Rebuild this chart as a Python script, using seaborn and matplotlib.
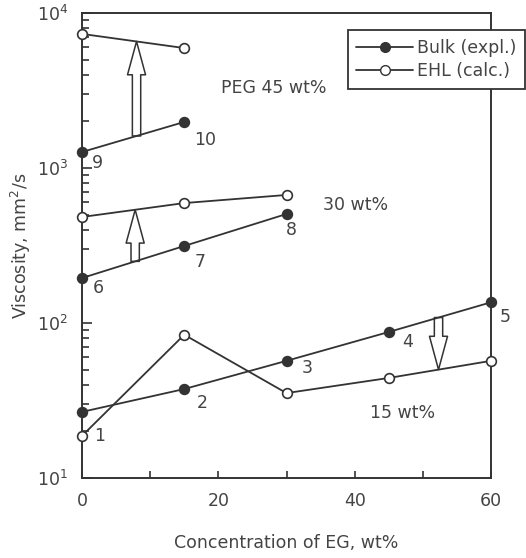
import numpy as np
import pandas as pd
import matplotlib
matplotlib.use("Agg")
import matplotlib.pyplot as plt
import seaborn as sns
from matplotlib.lines import Line2D
from matplotlib.ticker import FixedLocator, LogLocator, NullFormatter

# ---------------- data ----------------
x15 = [0, 15, 30, 45, 60]
bulk15 = [26.7, 37.5, 57.0, 87.5, 136]
ehl15 = [18.7, 84.0, 35.3, 44.2, 57.0]

x30 = [0, 15, 30]
bulk30 = [195, 314, 505]
ehl30 = [483, 594, 670]

x45 = [0, 15]
bulk45 = [1268, 1982]
ehl45 = [7330, 5940]

point_labels = ["1", "2", "3", "4", "5", "6", "7", "8", "9", "10"]
group_labels = ["15 wt%", "30 wt%", "PEG 45 wt%"]
legend_labels = ["Bulk (expl.)", "EHL (calc.)"]
xticks = [0, 20, 40, 60]

ink = "#333333"
txt = "#444444"
FS = 12.5

sns.set_theme(style="white")
plt.rcParams["font.family"] = ["DejaVu Sans"]

fig = plt.figure(figsize=(5.26, 5.58), dpi=100)
ax = fig.add_axes([82/526, 1-478/558, (491-82)/526, (478-13)/558])

rows = []
for g, xs, b, e in [("15", x15, bulk15, ehl15), ("30", x30, bulk30, ehl30), ("45", x45, bulk45, ehl45)]:
    for xi, bi, ei in zip(xs, b, e):
        rows.append(dict(group=g, kind="bulk", x=xi, v=bi))
        rows.append(dict(group=g, kind="ehl", x=xi, v=ei))
df = pd.DataFrame(rows)

for g in ["15", "30", "45"]:
    for kind, fc in [("bulk", ink), ("ehl", "white")]:
        sub = df[(df.group == g) & (df.kind == kind)]
        sns.lineplot(data=sub, x="x", y="v", ax=ax, color=ink, lw=1.3,
                     marker="o", markersize=7, markerfacecolor=fc,
                     markeredgecolor=ink, markeredgewidth=1.2,
                     clip_on=False, zorder=5, legend=False)

ax.set_yscale("log")
ax.set_xlim(0, 60)
ax.set_ylim(10, 10000)

# ticks
ax.xaxis.set_major_locator(FixedLocator(xticks))
ax.xaxis.set_minor_locator(FixedLocator([10, 30, 50]))
ax.yaxis.set_major_locator(LogLocator(base=10, numticks=10))
ax.yaxis.set_minor_locator(LogLocator(base=10, subs=np.arange(2, 10), numticks=20))
ax.yaxis.set_minor_formatter(NullFormatter())
ax.tick_params(axis="both", which="both", direction="in", colors=ink,
               labelcolor=txt, labelsize=FS, width=1.2, left=True, bottom=True,
               right=False, top=False)
ax.tick_params(axis="both", which="major", length=7, pad=10)
ax.tick_params(axis="x", which="major", length=5)
ax.tick_params(axis="both", which="minor", length=5)

for s in ax.spines.values():
    s.set_color(ink)
    s.set_linewidth(1.4)
    s.set_visible(True)

ax.set_xlabel("Concentration of EG, wt%", fontsize=FS, color=txt, va="center")
ax.set_ylabel("Viscosity, mm$^2$/s", fontsize=FS, color=txt, va="center")
ax.xaxis.set_label_coords(0.5, -(543 - 478) / 465)
ax.yaxis.set_label_coords(-(82 - 21) / 409, 0.5)

# point number labels
pts = [(x15[0], ehl15[0])] + [(x15[i], bulk15[i]) for i in range(1, 5)] + \
      [(x30[i], bulk30[i]) for i in range(3)] + [(x45[i], bulk45[i]) for i in range(2)]
offs = [(18, 0), (18, -14), (21, -7), (19, -10), (14, -15),
        (16, -10), (16, -16), (5, -16), (15, -11), (21, -18)]
for lab, (px, py), (dx, dy) in zip(point_labels, pts, offs):
    ax.annotate(lab, (px, py), xytext=(dx, dy), textcoords="offset pixels",
                ha="center", va="center", fontsize=FS, color=txt)

# group labels
for lab, (cx, cy) in zip(group_labels, [(403, 413), (356, 205), (274, 88)]):
    ax.text((cx - 82) / 409, 1 - (cy - 13) / 465, lab,
            transform=ax.transAxes, ha="center", va="center", fontsize=FS, color=txt)

# block arrows between bulk and EHL
def on_line(xs, ys, xq):
    return 10 ** np.interp(xq, xs, np.log10(ys))

arrow_style = "simple,head_length=2.4,head_width=1.3,tail_width=0.6"
for xs, b, e, xq in [(x45, bulk45, ehl45, 8.0), (x30, bulk30, ehl30, 7.8), (x15, bulk15, ehl15, 52.3)]:
    ax.annotate("", xy=(xq, on_line(xs, e, xq)), xytext=(xq, on_line(xs, b, xq)),
                arrowprops=dict(arrowstyle=arrow_style, fc="white", ec=ink, lw=1.1,
                                shrinkA=0, shrinkB=0, mutation_scale=10),
                zorder=4)

# legend
handles = [Line2D([], [], color=ink, lw=1.3, marker="o", markersize=7, mfc=ink, mec=ink),
           Line2D([], [], color=ink, lw=1.3, marker="o", markersize=7, mfc="white", mec=ink)]
leg = ax.legend(handles, legend_labels, loc="upper right",
                bbox_to_anchor=(525/526, 1 - 30/558), bbox_transform=fig.transFigure,
                fontsize=FS, frameon=True, fancybox=False, handlelength=3.3,
                handletextpad=0.2, borderpad=0.5, labelspacing=0.3, framealpha=1,
                borderaxespad=0)
leg.get_frame().set_edgecolor(ink)
leg.get_frame().set_linewidth(1.3)
for t in leg.get_texts():
    t.set_color(txt)

fig.savefig("out.png", dpi=100)
